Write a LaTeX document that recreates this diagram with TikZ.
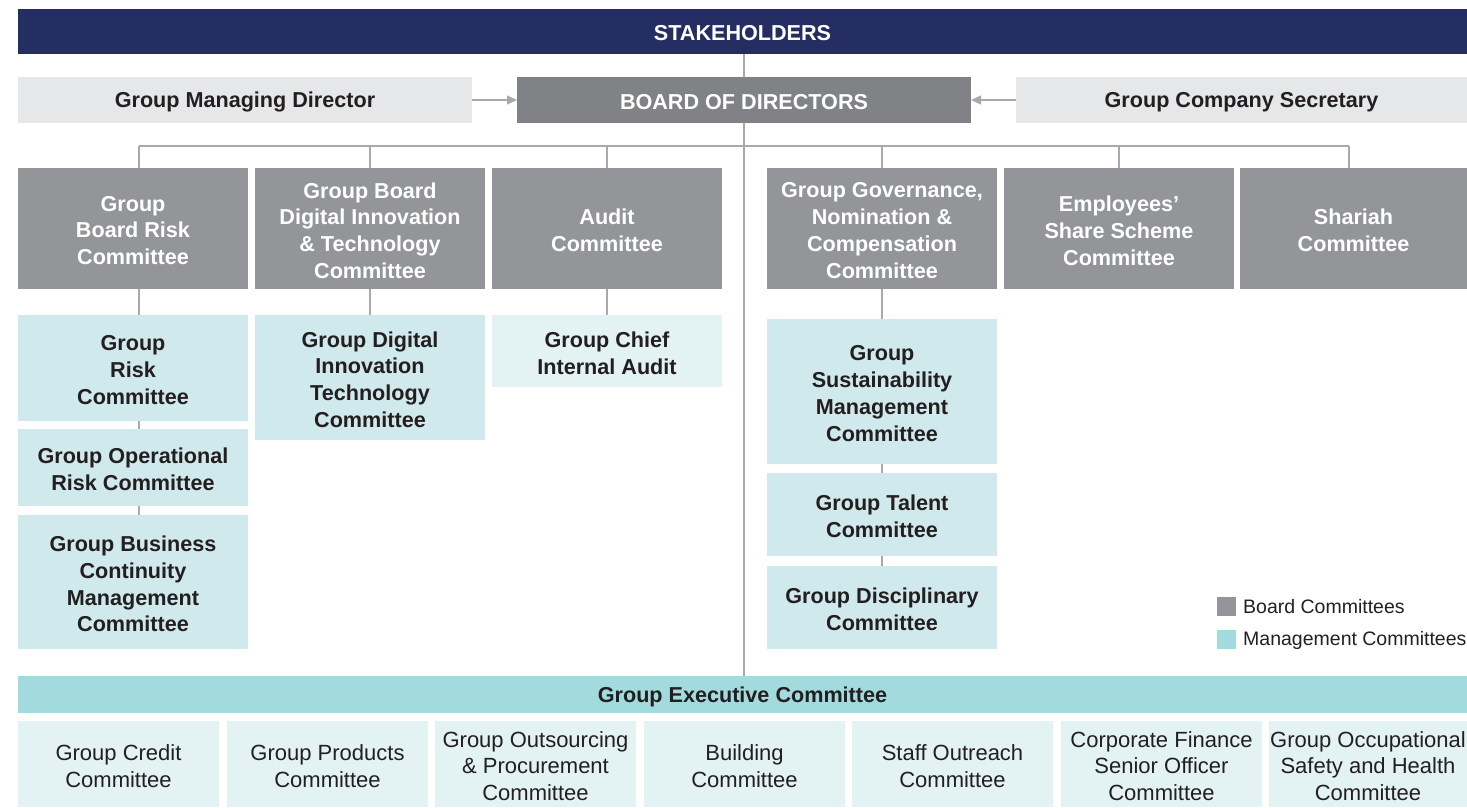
\documentclass[tikz,border=0pt]{standalone}
\usepackage{fontspec}
\setmainfont{Liberation Sans}
\usetikzlibrary{arrows.meta,calc}
\definecolor{navy}{HTML}{252E63}
\definecolor{bodc}{HTML}{808285}
\definecolor{bcc}{HTML}{939598}
\definecolor{lgc}{HTML}{E6E7E8}
\definecolor{mcc}{HTML}{D0E9EC}
\definecolor{mclc}{HTML}{E3F2F3}
\definecolor{gecc}{HTML}{A2DADE}
\definecolor{lnc}{HTML}{A7A9AC}
\definecolor{txc}{HTML}{231F20}
\tikzset{
  shapebox/.style={inner sep=0pt, outer sep=0pt},
  btext/.style={inner sep=0pt, outer sep=0pt, align=center, text=txc, yshift=-2pt,
    font=\bfseries\fontsize{21.6}{26.8}\selectfont},
  rtext/.style={btext, font=\fontsize{22}{26.8}\selectfont},
  wtext/.style={btext, text=white},
  navybox/.style={shapebox, fill=navy},
  lightbox/.style={shapebox, fill=lgc},
  bodbox/.style={shapebox, fill=bodc},
  boardbox/.style={shapebox, fill=bcc},
  mgmtbox/.style={shapebox, fill=mcc},
  mgmtlbox/.style={shapebox, fill=mclc},
  gecbox/.style={shapebox, fill=gecc},
  conn/.style={draw=lnc, line width=1.1pt},
  arr/.style={conn, -{Triangle[width=9pt,length=10pt]}, color=lnc},
  legsq/.style={inner sep=0pt, outer sep=0pt, minimum size=19pt},
  legtxt/.style={inner sep=0pt, anchor=west, text=txc, font=\fontsize{19.5}{22}\selectfont},
}
\newcommand\bx[8]{\node[#6, minimum width={(#4-#2)*1pt}, minimum height={(#5-#3)*1pt}] (#1) at ({(#2+#4)/2},{(#3+#5)/2}) {};
\node[#7] (#1t) at (#1.center) {#8};}
\begin{document}
\begin{tikzpicture}[x=1pt,y=-1pt]
\useasboundingbox (0,0) rectangle (1467,807);
% top
\bx{stk}{18}{9}{1467}{54}{navybox}{wtext}{STAKEHOLDERS}
\bx{gmd}{18}{77}{472}{123}{lightbox}{btext}{Group Managing Director}
\bx{bod}{517}{77}{971}{123}{bodbox}{wtext}{BOARD OF DIRECTORS}
\bx{gcs}{1016}{77}{1467}{123}{lightbox}{btext}{Group Company Secretary}
% board committees
\bx{b1}{18}{168}{248}{289}{boardbox}{wtext}{Group\\Board Risk\\Committee}
\bx{b2}{255}{168}{485}{289}{boardbox}{wtext}{Group Board\\Digital Innovation\\\& Technology\\Committee}
\bx{b3}{492}{168}{722}{289}{boardbox}{wtext}{Audit\\Committee}
\bx{b4}{767}{168}{997}{289}{boardbox}{wtext}{Group Governance,\\Nomination \&\\Compensation\\Committee}
\bx{b5}{1004}{168}{1234}{289}{boardbox}{wtext}{Employees’\\Share Scheme\\Committee}
\bx{b6}{1240}{168}{1467}{289}{boardbox}{wtext}{Shariah\\Committee}
% management committees
\bx{grc}{18}{315}{248}{421}{mgmtbox}{btext}{Group\\Risk\\Committee}
\bx{gorc}{18}{429}{248}{506}{mgmtbox}{btext}{Group Operational\\Risk Committee}
\bx{gbcm}{18}{515}{248}{649}{mgmtbox}{btext}{Group Business\\Continuity\\Management\\Committee}
\bx{gdit}{255}{315}{485}{440}{mgmtbox}{btext}{Group Digital\\Innovation\\Technology\\Committee}
\bx{gcia}{492}{315}{722}{387}{mgmtlbox}{btext}{Group Chief\\Internal Audit}
\bx{gsmc}{767}{319}{997}{464}{mgmtbox}{btext}{Group\\Sustainability\\Management\\Committee}
\bx{gtc}{767}{473}{997}{556}{mgmtbox}{btext}{Group Talent\\Committee}
\bx{gdc}{767}{566}{997}{649}{mgmtbox}{btext}{Group Disciplinary\\Committee}
% executive
\bx{gec}{18}{676}{1467}{713}{gecbox}{btext}{Group Executive Committee}
\bx{e1}{18}{721}{219}{807}{mgmtlbox}{rtext}{Group Credit\\Committee}
\bx{e2}{227}{721}{428}{807}{mgmtlbox}{rtext}{Group Products\\Committee}
\bx{e3}{435}{721}{636}{807}{mgmtlbox}{rtext}{Group Outsourcing\\\& Procurement\\Committee}
\bx{e4}{644}{721}{845}{807}{mgmtlbox}{rtext}{Building\\Committee}
\bx{e5}{852}{721}{1053}{807}{mgmtlbox}{rtext}{Staff Outreach\\Committee}
\bx{e6}{1061}{721}{1262}{807}{mgmtlbox}{rtext}{Corporate Finance\\Senior Officer\\Committee}
\bx{e7}{1269}{721}{1467}{807}{mgmtlbox}{rtext}{Group Occupational\\Safety and Health\\Committee}
% legend
\node[legsq, fill=bcc] (lg1) at (1226.5,606.5) {};
\node[legtxt] (lt1) at ([xshift=7pt,yshift=-0.5pt]lg1.east) {Board Committees};
\node[legsq, fill=gecc] (lg2) at (1226.5,639.5) {};
\node[legtxt] (lt2) at ([xshift=7pt,yshift=-0.5pt]lg2.east) {Management Committees};
% connectors
\draw[conn] (bod.north |- stk.south) -- (bod.north);
\draw[conn] (bod.south) -- (bod.south |- gec.north);
\draw[arr] (gmd.east) -- (bod.west);
\draw[arr] (gcs.west) -- (bod.east);
\coordinate (busL) at (139,146);
\coordinate (busR) at (1349,146);
\draw[conn] (busL) -- (busR);
\draw[conn] (busL) -- (busL |- b1.north);
\draw[conn] (b2.north |- busL) -- (b2.north);
\draw[conn] (b3.north |- busL) -- (b3.north);
\draw[conn] (b4.north |- busL) -- (b4.north);
\draw[conn] (b5.north |- busL) -- (b5.north);
\draw[conn] (busR) -- (busR |- b6.north);
\draw[conn] (busL |- b1.south) -- (busL |- grc.north);
\draw[conn] (busL |- grc.south) -- (busL |- gorc.north);
\draw[conn] (busL |- gorc.south) -- (busL |- gbcm.north);
\draw[conn] (b2.south) -- (gdit.north);
\draw[conn] (b3.south) -- (gcia.north);
\draw[conn] (b4.south) -- (gsmc.north);
\draw[conn] (gsmc.south) -- (gtc.north);
\draw[conn] (gtc.south) -- (gdc.north);
\end{tikzpicture}
\end{document}
